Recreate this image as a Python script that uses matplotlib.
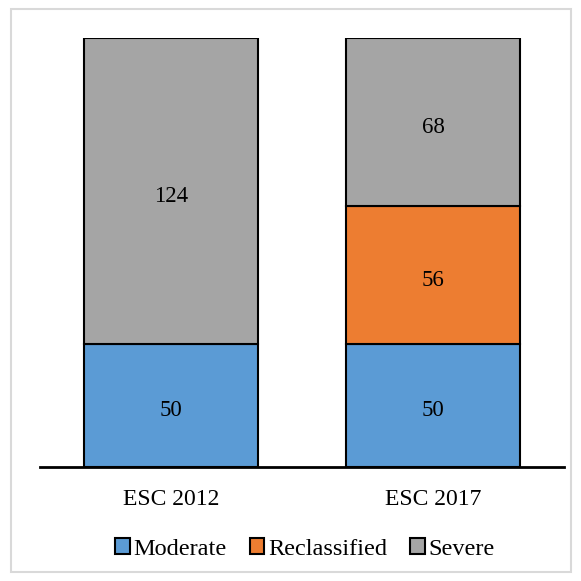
import matplotlib.pyplot as plt
from matplotlib.patches import Patch, FancyBboxPatch

categories = ["ESC 2012", "ESC 2017"]
moderate = [50, 50]
reclassified = [0, 56]
severe = [124, 68]

colors = {"Moderate": "#5b9bd5", "Reclassified": "#ed7d31", "Severe": "#a5a5a5"}

plt.rcParams['font.family'] = ['Liberation Serif', 'DejaVu Serif']

fig = plt.figure(figsize=(5.81, 5.81), dpi=100)
ax = fig.add_axes([40 / 581, 1 - 467 / 581, 524 / 581, 429 / 581])

x = range(len(categories))
bottom = [0, 0]
for name, vals in [("Moderate", moderate), ("Reclassified", reclassified), ("Severe", severe)]:
    for i, v in enumerate(vals):
        if v == 0:
            continue
        ax.bar(i, v, bottom=bottom[i], width=0.664, color=colors[name],
               edgecolor="black", linewidth=1.5)
        ax.annotate(str(v), (i, bottom[i] + v / 2), xytext=(0, -4), textcoords="offset points",
                    ha="center", va="center", fontsize=16.5)
        bottom[i] += v

ax.set_xlim(-0.5, 1.5)
ax.set_ylim(0, 174)
for s in ["top", "right", "left"]:
    ax.spines[s].set_visible(False)
ax.spines["bottom"].set_linewidth(2)
ax.set_yticks([])
ax.set_xticks(list(x))
ax.set_xticklabels(categories, fontsize=17)
ax.tick_params(axis="x", length=0, pad=16)

handles = [Patch(facecolor=c, edgecolor="black", linewidth=1.5, label=n) for n, c in colors.items()]
fig.legend(handles=handles, loc="center", bbox_to_anchor=(305 / 581, 1 - 549 / 581), ncol=3,
           frameon=False, fontsize=17.5, handlelength=0.6, handleheight=0.6,
           handletextpad=0.15, columnspacing=0.95)

border = FancyBboxPatch((11 / 581, 9 / 581), 560 / 581, 563 / 581, boxstyle="square,pad=0",
                        transform=fig.transFigure, fill=False, edgecolor="#d9d9d9", linewidth=1.5)
fig.patches.append(border)

fig.savefig("out.png", dpi=100)
